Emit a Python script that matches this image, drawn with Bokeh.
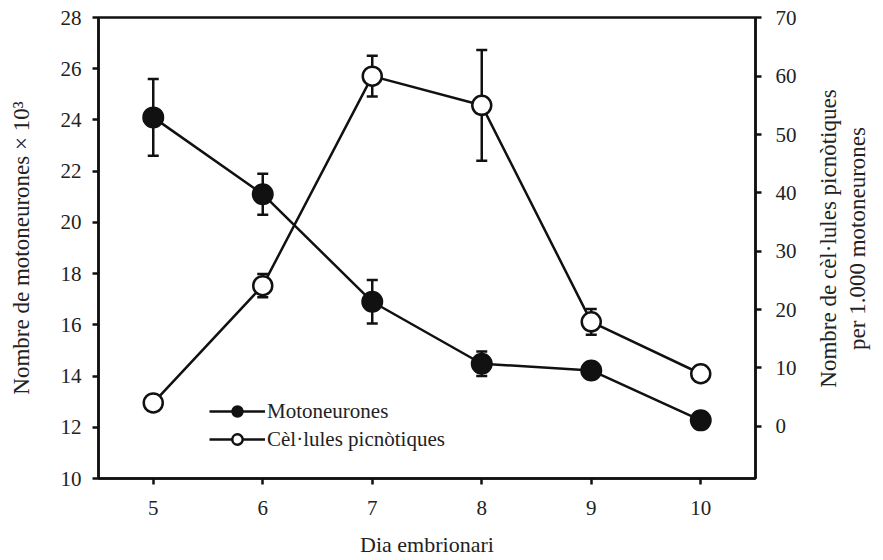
import math
from bokeh.plotting import figure
from bokeh.layouts import row
from bokeh.models import (Range1d, LinearAxis, FixedTicker, ColumnDataSource,
                          Whisker, TeeHead, Legend, LegendItem, Label)
from bokeh.embed import file_html
from bokeh.resources import INLINE

# ---- data ----
days = [5, 6, 7, 8, 9, 10]
moto = [24.1, 21.1, 16.9, 14.48, 14.22, 12.27]
moto_err = [1.5, 0.8, 0.85, 0.48, 0.0, 0.0]
pic = [4.0, 24.1, 60.0, 55.0, 17.9, 9.0]
pic_err = [0.0, 2.0, 3.5, 9.5, 2.2, 0.0]
left_ticks = [10, 12, 14, 16, 18, 20, 22, 24, 26, 28]
right_ticks = [0, 10, 20, 30, 40, 50, 60, 70]
right_title = ["Nombre de cèl·lules picnòtiques", "per 1.000 motoneurones"]

FONT = "Liberation Serif"
FS = "21px"
FT = "23px"

p = figure(width=800, height=560, output_backend="svg", toolbar_location=None,
           x_range=Range1d(4.5, 10.5), y_range=Range1d(10, 28),
           min_border_left=98, min_border_right=45, min_border_top=17,
           min_border_bottom=82)
p.extra_y_ranges = {"right": Range1d(-8.95, 70.05)}
p.xgrid.visible = False
p.ygrid.visible = False
p.outline_line_color = "#111111"
p.outline_line_width = 2.5
p.background_fill_color = "white"
p.border_fill_color = "white"

raxis = LinearAxis(y_range_name="right")
p.add_layout(raxis, "right")

for ax in [p.xaxis[0], p.yaxis[0], raxis]:
    ax.axis_line_width = 2.5
    ax.axis_line_color = "#111111"
    ax.major_tick_line_width = 2.5
    ax.major_tick_line_color = "#111111"
    ax.major_tick_in = 0
    ax.major_tick_out = 6
    ax.minor_tick_line_color = None
    ax.major_label_text_font = FONT
    ax.major_label_text_font_size = FS
    ax.major_label_text_color = "#222222"
    ax.axis_label_text_font = FONT
    ax.axis_label_text_font_size = FT
    ax.axis_label_text_font_style = "normal"
    ax.axis_label_text_color = "#222222"

p.xaxis[0].axis_label_text_font_size = "22px"
p.xaxis[0].ticker = FixedTicker(ticks=days)
p.yaxis[0].ticker = FixedTicker(ticks=left_ticks)
raxis.ticker = FixedTicker(ticks=right_ticks)

p.xaxis[0].axis_label = "Dia embrionari"
p.yaxis[0].axis_label = "Nombre de motoneurones × 10³"

p.xaxis[0].major_label_standoff = 16
p.xaxis[0].axis_label_standoff = 14
p.yaxis[0].major_label_standoff = 11
p.yaxis[0].axis_label_standoff = 24
raxis.major_label_standoff = 14

src = ColumnDataSource(dict(
    x=days, moto=moto,
    m_up=[m + e for m, e in zip(moto, moto_err)],
    m_lo=[m - e for m, e in zip(moto, moto_err)],
    pic=pic,
    p_up=[v + e for v, e in zip(pic, pic_err)],
    p_lo=[v - e for v, e in zip(pic, pic_err)],
))

w1 = Whisker(source=src, base="x", upper="m_up", lower="m_lo",
             line_width=2.5, line_color="#111111", level="underlay",
             upper_head=TeeHead(size=11, line_width=2.5, line_color="#111111"),
             lower_head=TeeHead(size=11, line_width=2.5, line_color="#111111"))
w2 = Whisker(source=src, base="x", upper="p_up", lower="p_lo", y_range_name="right",
             line_width=2.5, line_color="#111111", level="underlay",
             upper_head=TeeHead(size=11, line_width=2.5, line_color="#111111"),
             lower_head=TeeHead(size=11, line_width=2.5, line_color="#111111"))
p.add_layout(w1)
p.add_layout(w2)

l1 = p.line("x", "moto", source=src, line_width=2.5, line_color="#111111")
c1 = p.scatter("x", "moto", source=src, size=20, fill_color="#111111",
               line_color="#111111", line_width=2)
l2 = p.line("x", "pic", source=src, y_range_name="right", line_width=2.5,
            line_color="#111111")
c2 = p.scatter("x", "pic", source=src, y_range_name="right", size=19,
               fill_color="white", line_color="#111111", line_width=2.5)

legend = Legend(items=[LegendItem(label="Motoneurones", renderers=[l1, c1]),
                       LegendItem(label="Cèl·lules picnòtiques", renderers=[l2, c2])],
                location=(111, 26), background_fill_alpha=0, border_line_color=None,
                glyph_width=56, glyph_height=26, label_text_font=FONT,
                label_text_font_size=FS, label_text_color="#222222",
                spacing=2, padding=0, margin=0, label_standoff=2)
p.add_layout(legend)

# side strip holding the right-hand axis title (two lines, reading bottom to top)
p2 = figure(width=80, height=560, output_backend="svg", toolbar_location=None,
            x_range=Range1d(0, 80), y_range=Range1d(0, 560),
            x_axis_type=None, y_axis_type=None,
            min_border=0, outline_line_color=None)
p2.grid.visible = False
p2.background_fill_color = "white"
p2.border_fill_color = "white"
for i, txt in enumerate(right_title):
    p2.add_layout(Label(x=28 + 29 * i, y=240, x_units="screen", y_units="screen",
                        text=txt, angle=math.pi / 2, text_align="center",
                        text_baseline="middle", text_font=FONT,
                        text_font_size=FT, text_color="#222222"))

open("out.html", "w").write(file_html(row(p, p2), INLINE))
